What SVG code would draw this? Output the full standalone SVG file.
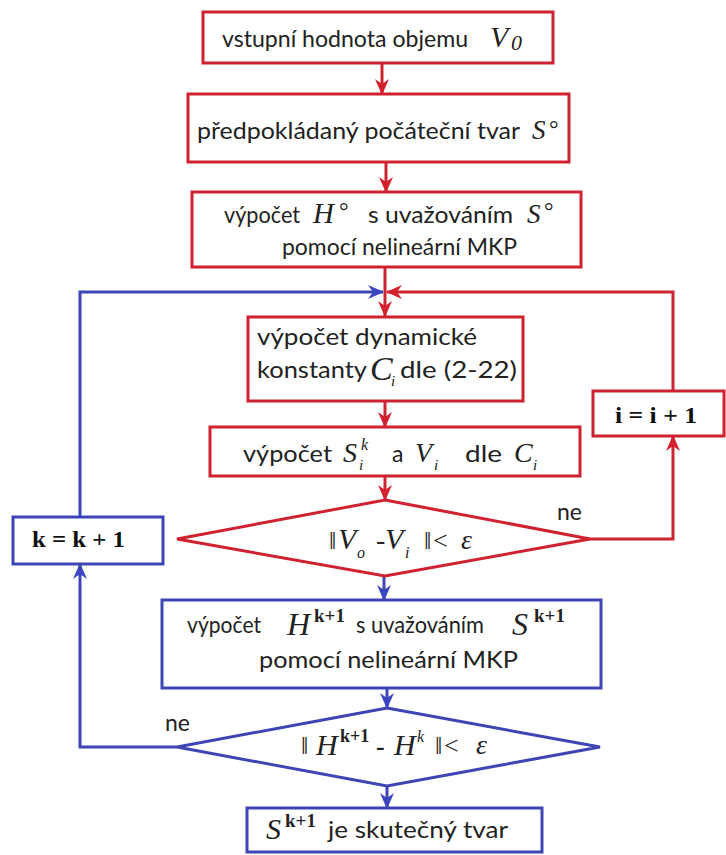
<svg xmlns="http://www.w3.org/2000/svg" width="726" height="855" viewBox="0 0 726 855">
<style>
.rb{fill:#fff;stroke:#cf2130;stroke-width:3}
.bb{fill:#fff;stroke:#3c45b3;stroke-width:3}
.rl{fill:none;stroke:#cc2431;stroke-width:3}
.bl{fill:none;stroke:#3c45b3;stroke-width:3}
.t{font-family:Lato,"Liberation Sans",sans-serif;font-size:23px;fill:#222}
.m{font-family:"Liberation Serif",serif;font-style:italic;fill:#222}
.u{font-family:"Liberation Serif",serif;fill:#222}
.b{font-family:"Liberation Serif",serif;font-weight:bold;font-size:24px;fill:#111}
</style>
<defs>
<marker id="ar" markerWidth="16" markerHeight="14" refX="15" refY="7" orient="auto" markerUnits="userSpaceOnUse"><path d="M0,0 L16,7 L0,14 L5,7 z" fill="#d41f2c"/></marker>
<marker id="ab" markerWidth="16" markerHeight="14" refX="15" refY="7" orient="auto" markerUnits="userSpaceOnUse"><path d="M0,0 L16,7 L0,14 L5,7 z" fill="#3c45c0"/></marker>
</defs>
<g id="connectors">
<line class="rl" x1="382" y1="63" x2="382" y2="94" marker-end="url(#ar)"/>
<line class="rl" x1="386" y1="162" x2="386" y2="192" marker-end="url(#ar)"/>
<line class="rl" x1="385" y1="267" x2="385" y2="316" marker-end="url(#ar)"/>
<polyline class="bl" points="80,517 80,292 383,292" marker-end="url(#ab)"/>
<polyline class="rl" points="673,391 673,292 387,292" marker-end="url(#ar)"/>
<line class="rl" x1="385" y1="401" x2="385" y2="427" marker-end="url(#ar)"/>
<line class="rl" x1="385" y1="476" x2="385" y2="500" marker-end="url(#ar)"/>
<polyline class="rl" points="590,539 673,539 673,436" marker-end="url(#ar)"/>
<line class="bl" x1="384" y1="576" x2="384" y2="600" marker-end="url(#ab)"/>
<line class="bl" x1="387" y1="688" x2="387" y2="708" marker-end="url(#ab)"/>
<polyline class="bl" points="177,747 80,747 80,564" marker-end="url(#ab)"/>
<line class="bl" x1="387" y1="786" x2="387" y2="808" marker-end="url(#ab)"/>
</g>
<g id="n1">
<rect class="rb" x="203" y="12" width="350" height="51"/>
<text class="t" x="222" y="47" font-size="22.5" textLength="246" lengthAdjust="spacingAndGlyphs">vstupní hodnota objemu</text>
<text class="m" x="490" y="47" font-size="30">V</text>
<text class="m" x="511" y="50" font-size="22">0</text>
</g>
<g id="n2">
<rect class="rb" x="188" y="94" width="381" height="68"/>
<text class="t" x="197" y="139" font-size="24" textLength="323" lengthAdjust="spacingAndGlyphs">předpokládaný počáteční tvar</text>
<text class="m" x="532" y="139" font-size="27">S</text>
<text class="u" x="549" y="137" font-size="24">°</text>
</g>
<g id="n3">
<rect class="rb" x="192" y="192" width="389" height="75"/>
<text class="t" x="224" y="223" font-size="24" textLength="76" lengthAdjust="spacingAndGlyphs">výpočet</text>
<text class="m" x="313" y="223" font-size="29">H</text>
<text class="u" x="339" y="219" font-size="24">°</text>
<text class="t" x="368" y="223" font-size="24" textLength="145" lengthAdjust="spacingAndGlyphs">s uvažováním</text>
<text class="m" x="527" y="223" font-size="27">S</text>
<text class="u" x="544" y="219" font-size="24">°</text>
<text class="t" x="282" y="255" font-size="24" textLength="235" lengthAdjust="spacingAndGlyphs">pomocí nelineární MKP</text>
</g>
<g id="n4">
<rect class="rb" x="248" y="317" width="275" height="84"/>
<text class="t" x="257" y="345" font-size="25" textLength="220" lengthAdjust="spacingAndGlyphs">výpočet dynamické</text>
<text class="t" x="257" y="378" font-size="25" textLength="110" lengthAdjust="spacingAndGlyphs">konstanty</text>
<text class="m" x="370" y="380" font-size="34">C</text>
<text class="m" x="391" y="386" font-size="15">i</text>
<text class="t" x="400" y="378" font-size="25" textLength="117" lengthAdjust="spacingAndGlyphs">dle (2-22)</text>
</g>
<g id="ni">
<rect class="rb" x="593" y="391" width="131" height="45"/>
<text class="b" x="615" y="423" textLength="82" lengthAdjust="spacingAndGlyphs">i = i + 1</text>
</g>
<g id="n5">
<rect class="rb" x="210" y="427" width="370" height="49"/>
<text class="t" x="243" y="462" font-size="25" textLength="89" lengthAdjust="spacingAndGlyphs">výpočet</text>
<text class="m" x="343" y="462" font-size="28">S</text>
<text class="m" x="361" y="450" font-size="16">k</text>
<text class="m" x="359" y="470" font-size="15">i</text>
<text class="t" x="392" y="462" font-size="25">a</text>
<text class="m" x="415" y="462" font-size="28">V</text>
<text class="m" x="434" y="470" font-size="15">i</text>
<text class="t" x="465" y="462" font-size="25" textLength="37" lengthAdjust="spacingAndGlyphs">dle</text>
<text class="m" x="514" y="462" font-size="28">C</text>
<text class="m" x="533" y="470" font-size="15">i</text>
</g>
<g id="d1">
<polygon class="rb" points="385,500 590,539 385,576 177,539"/>
<text class="t" x="557" y="520" font-size="23">ne</text>
<text class="u" x="329" y="549" font-size="26">‖</text>
<text class="m" x="338" y="549" font-size="30">V</text>
<text class="m" x="357" y="558" font-size="16">o</text>
<text class="u" x="376" y="549" font-size="28">-</text>
<text class="m" x="385" y="549" font-size="30">V</text>
<text class="m" x="405" y="558" font-size="16">i</text>
<text class="u" x="424" y="549" font-size="26">‖</text>
<text class="u" x="433" y="549" font-size="26">&lt;</text>
<text class="m" x="461" y="549" font-size="28">ε</text>
</g>
<g id="nk">
<rect class="bb" x="13" y="517" width="150" height="47"/>
<text class="b" x="32" y="547" textLength="93" lengthAdjust="spacingAndGlyphs">k = k + 1</text>
</g>
<g id="n6">
<rect class="bb" x="162" y="600" width="439" height="88"/>
<text class="t" x="187" y="633" font-size="23" textLength="74" lengthAdjust="spacingAndGlyphs">výpočet</text>
<text class="m" x="287" y="635" font-size="32">H</text>
<text class="u" x="314" y="622" font-size="19" font-weight="bold">k+1</text>
<text class="t" x="356" y="633" font-size="23" textLength="128" lengthAdjust="spacingAndGlyphs">s uvažováním</text>
<text class="m" x="512" y="635" font-size="32">S</text>
<text class="u" x="534" y="622" font-size="19" font-weight="bold">k+1</text>
<text class="t" x="259" y="668" font-size="24" textLength="259" lengthAdjust="spacingAndGlyphs">pomocí nelineární MKP</text>
</g>
<g id="d2">
<polygon class="bb" points="387,708 600,747 387,786 177,747"/>
<text class="t" x="165" y="731" font-size="23">ne</text>
<text class="u" x="301" y="754" font-size="26">‖</text>
<text class="m" x="316" y="755" font-size="30">H</text>
<text class="u" x="340" y="742" font-size="18" font-weight="bold">k+1</text>
<text class="u" x="376" y="755" font-size="26" font-weight="bold">-</text>
<text class="m" x="394" y="755" font-size="30">H</text>
<text class="m" x="417" y="742" font-size="16">k</text>
<text class="u" x="435" y="754" font-size="26">‖</text>
<text class="u" x="444" y="754" font-size="26">&lt;</text>
<text class="m" x="476" y="754" font-size="28">ε</text>
</g>
<g id="n7">
<rect class="bb" x="247" y="808" width="295" height="44"/>
<text class="m" x="266" y="839" font-size="30">S</text>
<text class="u" x="285" y="827" font-size="19" font-weight="bold">k+1</text>
<text class="t" x="328" y="838" font-size="23" textLength="180" lengthAdjust="spacingAndGlyphs">je skutečný tvar</text>
</g>
</svg>
